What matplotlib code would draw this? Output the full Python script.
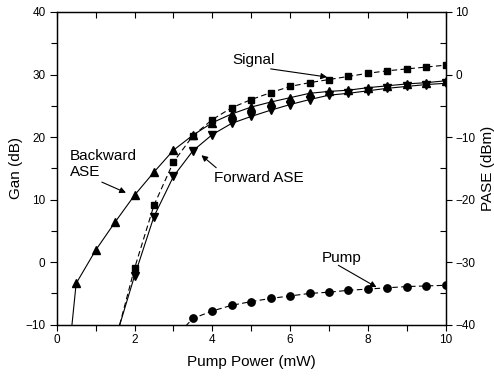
import matplotlib
matplotlib.use("Agg")
import matplotlib.pyplot as plt
from matplotlib.ticker import MultipleLocator

plt.rcParams['font.family'] = ['Liberation Sans', 'DejaVu Sans']

# Signal gain (dB)
sig_x = [1.5, 2, 2.5, 3, 3.5, 4, 4.5, 5, 5.5, 6, 6.5, 7, 7.5, 8, 8.5, 9, 9.5, 10]
sig_y = [-12.8, -1.0, 9.1, 16.0, 20.2, 22.8, 24.7, 26.0, 27.1, 28.1, 28.7, 29.2,
         29.7, 30.2, 30.6, 30.9, 31.2, 31.5]

# Backward ASE (dBm)
bwd_x = [0, 0.5, 1, 1.5, 2, 2.5, 3, 3.5, 4, 4.5, 5, 5.5, 6, 6.5, 7, 7.5, 8, 8.5, 9, 9.5, 10]
bwd_y = [-64.0, -33.4, -28.1, -23.6, -19.3, -15.6, -12.1, -9.7, -7.7, -6.3, -5.2,
         -4.4, -3.7, -3.0, -2.7, -2.5, -2.1, -1.8, -1.5, -1.3, -1.0]

# Forward ASE (dBm)
fwd_x = [1.5, 2, 2.5, 3, 3.5, 4, 4.5, 5, 5.5, 6, 6.5, 7, 7.5, 8, 8.5, 9, 9.5, 10]
fwd_y = [-42.5, -32.2, -22.7, -16.3, -12.2, -9.6, -7.8, -6.7, -5.7, -4.8, -4.0,
         -3.3, -3.0, -2.6, -2.2, -1.9, -1.6, -1.4]

# Pump (dBm)
pump_x = [3, 3.5, 4, 4.5, 5, 5.5, 6, 6.5, 7, 7.5, 8, 8.5, 9, 9.5, 10]
pump_y = [-42.3, -39.0, -37.8, -36.9, -36.3, -35.8, -35.4, -35.0, -34.8, -34.5,
          -34.3, -34.1, -33.9, -33.8, -33.7]

x_ticks = [0, 2, 4, 6, 8, 10]
gain_ticks = [-10, 0, 10, 20, 30, 40]
pase_ticks = [-40, -30, -20, -10, 0, 10]

fig = plt.figure(figsize=(4.94, 3.77), dpi=100)
ax1 = fig.add_axes([0.1148, 0.1387, 0.7875, 0.8295])
ax2 = ax1.twinx()

lw = 0.8
dash = (5, 3)
ax1.plot(sig_x, sig_y, color='black', lw=lw, dashes=dash, marker='s', ms=4.8)
ax2.plot(bwd_x, bwd_y, color='black', lw=lw, marker='^', ms=5.3)
ax2.plot(fwd_x, fwd_y, color='black', lw=lw, marker='v', ms=5.3)
ax2.plot(pump_x, pump_y, color='black', lw=lw, dashes=dash, marker='o', ms=5.3)

ax1.set_xlim(0, 10)
ax1.set_ylim(-10, 40)
ax2.set_ylim(-40, 10)
ax1.set_xticks(x_ticks)
ax1.set_yticks(gain_ticks)
ax2.set_yticks(pase_ticks)
ax1.xaxis.set_minor_locator(MultipleLocator(1))
ax1.yaxis.set_minor_locator(MultipleLocator(5))
ax2.yaxis.set_minor_locator(MultipleLocator(5))

ax1.tick_params(axis='x', which='both', direction='out', top=True, labeltop=False,
                length=4, width=0.8, labelsize=8.5, pad=3)
ax1.tick_params(axis='y', which='both', direction='out', length=5, width=0.8,
                labelsize=8.5, pad=3)
ax1.tick_params(axis='y', which='minor', length=4)
ax2.tick_params(axis='y', which='major', direction='out', length=4, width=0.8,
                labelsize=8.5, pad=3)
ax2.tick_params(axis='y', which='minor', direction='in', length=4, width=0.8)
# top ticks inward
for t in ax1.xaxis.get_major_ticks() + ax1.xaxis.get_minor_ticks():
    t.tick2line.set_marker(3)

for sp in list(ax1.spines.values()) + list(ax2.spines.values()):
    sp.set_linewidth(0.9)

ax1.set_xlabel('Pump Power (mW)', fontsize=11, labelpad=6)
ax1.set_ylabel('Gan (dB)', fontsize=11, labelpad=2)
ax2.set_ylabel('PASE (dBm)', fontsize=11, labelpad=4)

ap = dict(arrowstyle='-|>', color='black', lw=0.8, mutation_scale=9,
          shrinkA=0, shrinkB=0)
ax2.text(5.05, 2.4, 'Signal', fontsize=11, ha='center', va='center')
ax2.annotate('', xy=(6.95, -0.4), xytext=(5.5, 0.9), arrowprops=ap)
ax2.text(0.34, -14.3, 'Backward\nASE', fontsize=11, ha='left', va='center',
         linespacing=1.15)
ax2.annotate('', xy=(1.78, -18.9), xytext=(1.16, -17.2), arrowprops=ap)
ax2.text(4.04, -16.6, 'Forward ASE', fontsize=11, ha='left', va='center')
ax2.annotate('', xy=(3.72, -12.9), xytext=(4.1, -14.9), arrowprops=ap)
ax2.text(6.81, -29.4, 'Pump', fontsize=11, ha='left', va='center')
ax2.annotate('', xy=(8.22, -34.0), xytext=(7.24, -30.5), arrowprops=ap)

fig.savefig('out.png', dpi=100)
